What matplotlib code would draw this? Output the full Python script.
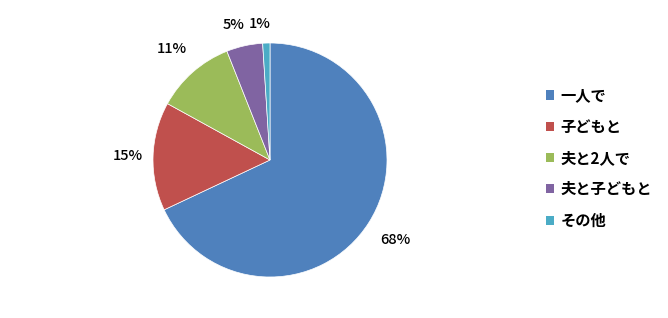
import matplotlib
matplotlib.use("Agg")
import matplotlib.pyplot as plt
import numpy as np
from matplotlib.patches import Patch

plt.rcParams['font.family'] = ['Noto Sans CJK JP', 'DejaVu Sans']

labels = ["一人で", "子どもと", "夫と2人で", "夫と子どもと", "その他"]
values = [68, 15, 11, 5, 1]
colors = ["#4F81BD", "#C0504D", "#9BBB59", "#8064A2", "#4BACC6"]
# how far each % label sits from the centre (in radii)
label_dist = [1.27, 1.22, 1.27, 1.18, 1.16]

W, H = 668, 318
fig = plt.figure(figsize=(W / 100, H / 100), dpi=100)
cx, cy, r = 270, 160, 117
ax = fig.add_axes([(cx - r) / W, (H - cy - r) / H, 2 * r / W, 2 * r / H])

wedges, texts, autotexts = ax.pie(values, colors=colors, startangle=90, counterclock=False,
                                  autopct="%d%%", pctdistance=1.24,
                                  wedgeprops=dict(edgecolor="white", linewidth=0.5),
                                  textprops=dict(fontsize=10.5, color="black", fontweight="medium"))
for w, t, d in zip(wedges, autotexts, label_dist):
    ang = np.deg2rad((w.theta1 + w.theta2) / 2)
    t.set_position((d * np.cos(ang) - (0.05 if d < 1.2 else 0), d * np.sin(ang)))

ax.set_xlim(-1, 1)
ax.set_ylim(-1, 1)
ax.set_aspect("equal")

handles = [Patch(facecolor=c, edgecolor="none") for c in colors]
fig.legend(handles, labels, loc="center left", bbox_to_anchor=(532 / W, 1 - 158 / H),
           frameon=False, prop=dict(size=11, weight="bold"), handlelength=0.55, handleheight=0.55,
           handletextpad=0.4, labelspacing=1.0)

fig.savefig("out.png", dpi=100)
